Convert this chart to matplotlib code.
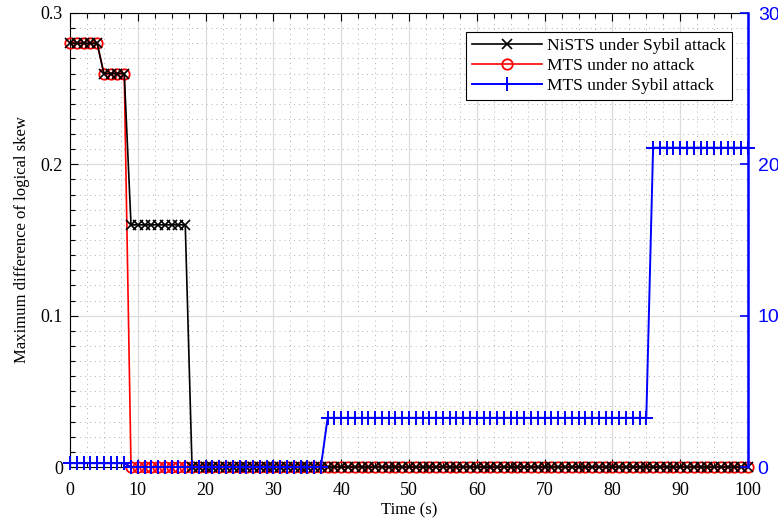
import matplotlib
matplotlib.use("Agg")
import matplotlib.pyplot as plt
from matplotlib.ticker import MultipleLocator, FixedLocator

plt.rcParams['font.family'] = ['Liberation Serif', 'DejaVu Serif']
plt.rcParams['mathtext.fontset'] = 'stix'

# Data (time in seconds, one sample per second)
t = list(range(0, 101))
nists_sybil = [0.28] * 5 + [0.26] * 4 + [0.16] * 9 + [0.0] * 83
mts_noattack = [0.28] * 5 + [0.26] * 4 + [0.0] * 92
mts_sybil = [0.25] * 9 + [0.0] * 29 + [3.25] * 48 + [21.1] * 15

xticks = [0, 10, 20, 30, 40, 50, 60, 70, 80, 90, 100]
yticks_left = [0, 0.1, 0.2, 0.3]
yticklabels_left = ['0', '0.1', '0.2', '0.3']
yticks_right = [0, 10, 20, 30]
yticklabels_right = ['0', '10', '20', '30']

fig = plt.figure(figsize=(7.78, 5.27), dpi=100)
ax = fig.add_axes([70/778, 1-467/527, (748-70)/778, (467-13)/527])

l2, = ax.plot(t, mts_noattack, color='red', marker='o', mfc='none', mec='red',
              markersize=7.5, lw=1.2, mew=1.3, zorder=3, clip_on=False,
              label='MTS under no attack')
l1, = ax.plot(t, nists_sybil, color='black', marker='x', markersize=7, lw=1.2,
              mew=1.2, zorder=4, clip_on=False, label='NiSTS under Sybil attack')

ax.set_xlim(0, 100)
ax.set_ylim(0, 0.3)
ax.xaxis.set_major_locator(FixedLocator(xticks))
ax.set_xticklabels([str(v) for v in xticks])
ax.xaxis.set_minor_locator(MultipleLocator(2.5))
ax.yaxis.set_major_locator(FixedLocator(yticks_left))
ax.set_yticklabels(yticklabels_left)
ax.yaxis.set_minor_locator(MultipleLocator(0.01))

ax.grid(True, which='major', color='#dcdcdc', lw=0.9, ls='-')
ax.grid(True, which='minor', color='#b0b0b0', lw=0.7, ls=(0, (1, 4)))
ax.set_axisbelow(True)

ax.tick_params(which='both', direction='in', top=True, right=True, labelsize=13,
               colors='black')
ax.tick_params(which='major', length=6, width=0.8)
ax.tick_params(which='minor', length=3.5, width=0.8)
ax.tick_params(axis='x', pad=11)
ax.tick_params(axis='y', pad=5)
for s in ax.spines.values():
    s.set_linewidth(0.8)

ax.set_xlabel('Time (s)', fontsize=12, labelpad=2)
ax.set_ylabel('Maximum difference of logical skew', fontsize=12, labelpad=8)

ax2 = ax.twinx()
l3, = ax2.plot(t, mts_sybil, color='blue', marker='+', markersize=10, lw=1.4,
               mew=1.4, zorder=5, clip_on=False, label='MTS under Sybil attack')
ax2.set_ylim(0, 30)
ax2.yaxis.set_major_locator(FixedLocator(yticks_right))
ax2.set_yticklabels(yticklabels_right, fontfamily='Liberation Sans')
ax2.tick_params(axis='y', which='major', direction='in', length=6, width=1.2,
                colors='blue', labelsize=14, pad=7)
ax2.spines['right'].set_color('blue')
ax2.spines['right'].set_linewidth(1.8)
for k in ['left', 'top', 'bottom']:
    ax2.spines[k].set_visible(False)

leg = ax2.legend(handles=[l1, l2, l3], loc='upper right',
                 bbox_to_anchor=(0.976, 0.958), fontsize=12.5, handlelength=4.0,
                 handletextpad=0.3, borderpad=0.35, labelspacing=0.22,
                 fancybox=False, framealpha=1, edgecolor='black', borderaxespad=0)
leg.get_frame().set_linewidth(0.8)

fig.savefig('out.png', dpi=100)
